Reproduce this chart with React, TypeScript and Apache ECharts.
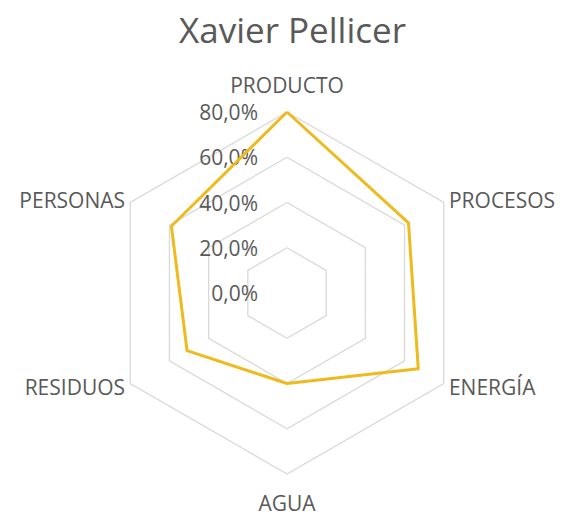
import React, { useEffect, useRef } from "react";
import * as echarts from "echarts";

const title = "Xavier Pellicer";
// clockwise from top
const categories = ["PRODUCTO", "PROCESOS", "ENERGÍA", "AGUA", "RESIDUOS", "PERSONAS"];
const values = [80, 62, 67, 40, 51, 59];
const axisMin = 0;
const axisMax = 80;
const axisInterval = 20;

const fmt = (v: number) => v.toFixed(1).replace(".", ",") + "%";

export default function App() {
  const ref = useRef<HTMLDivElement>(null);
  useEffect(() => {
    if (!ref.current) return;
    const chart = echarts.init(ref.current, undefined, { renderer: "svg" });
    // ECharts radar goes counter-clockwise; reorder to place items clockwise
    const order = [0, ...Array.from({ length: categories.length - 1 }, (_, i) => categories.length - 1 - i)];
    const center = [287, 293];
    const radius = 181;
    const font = "'Open Sans', sans-serif";
    chart.setOption({
      animation: false,
      backgroundColor: "#ffffff",
      title: {
        text: title,
        left: 174,
        top: 7,
        textStyle: { fontFamily: font, fontSize: 35, fontWeight: "normal", color: "#595959" },
      },
      radar: {
        center,
        radius,
        startAngle: 90,
        shape: "polygon",
        splitNumber: (axisMax - axisMin) / axisInterval,
        nameGap: 6,
        axisName: {
          color: "#595959",
          fontFamily: font,
          fontSize: 21,
          padding: [12, 0, 11, 0],
        },
        indicator: order.map((i) => ({ name: categories[i], min: axisMin, max: axisMax })),
        axisLine: { show: false },
        axisTick: { show: false },
        axisLabel: { show: false },
        splitArea: { show: false },
        splitLine: { lineStyle: { color: "#D9D9D9", width: 1.3 } },
      },
      polar: { center, radius },
      angleAxis: { type: "value", startAngle: 90, min: 0, max: 360, show: false },
      radiusAxis: {
        type: "value",
        min: axisMin,
        max: axisMax,
        interval: axisInterval,
        axisLine: { show: false },
        axisTick: { show: false },
        splitLine: { show: false },
        axisLabel: {
          formatter: (v: number) => fmt(v),
          color: "#595959",
          fontFamily: font,
          fontSize: 21,
          margin: 29,
          verticalAlign: "middle",
          padding: [4, 0, 0, 0],
        },
      },
      series: [
        {
          type: "radar",
          symbol: "none",
          lineStyle: { color: "#EDBB1E", width: 3 },
          data: [{ value: order.map((i) => values[i]), name: title }],
        },
      ],
    });
    return () => chart.dispose();
  }, []);
  return (
    <div
      ref={ref}
      style={{ position: "fixed", left: 0, top: 0, width: 563, height: 516 }}
    />
  );
}
